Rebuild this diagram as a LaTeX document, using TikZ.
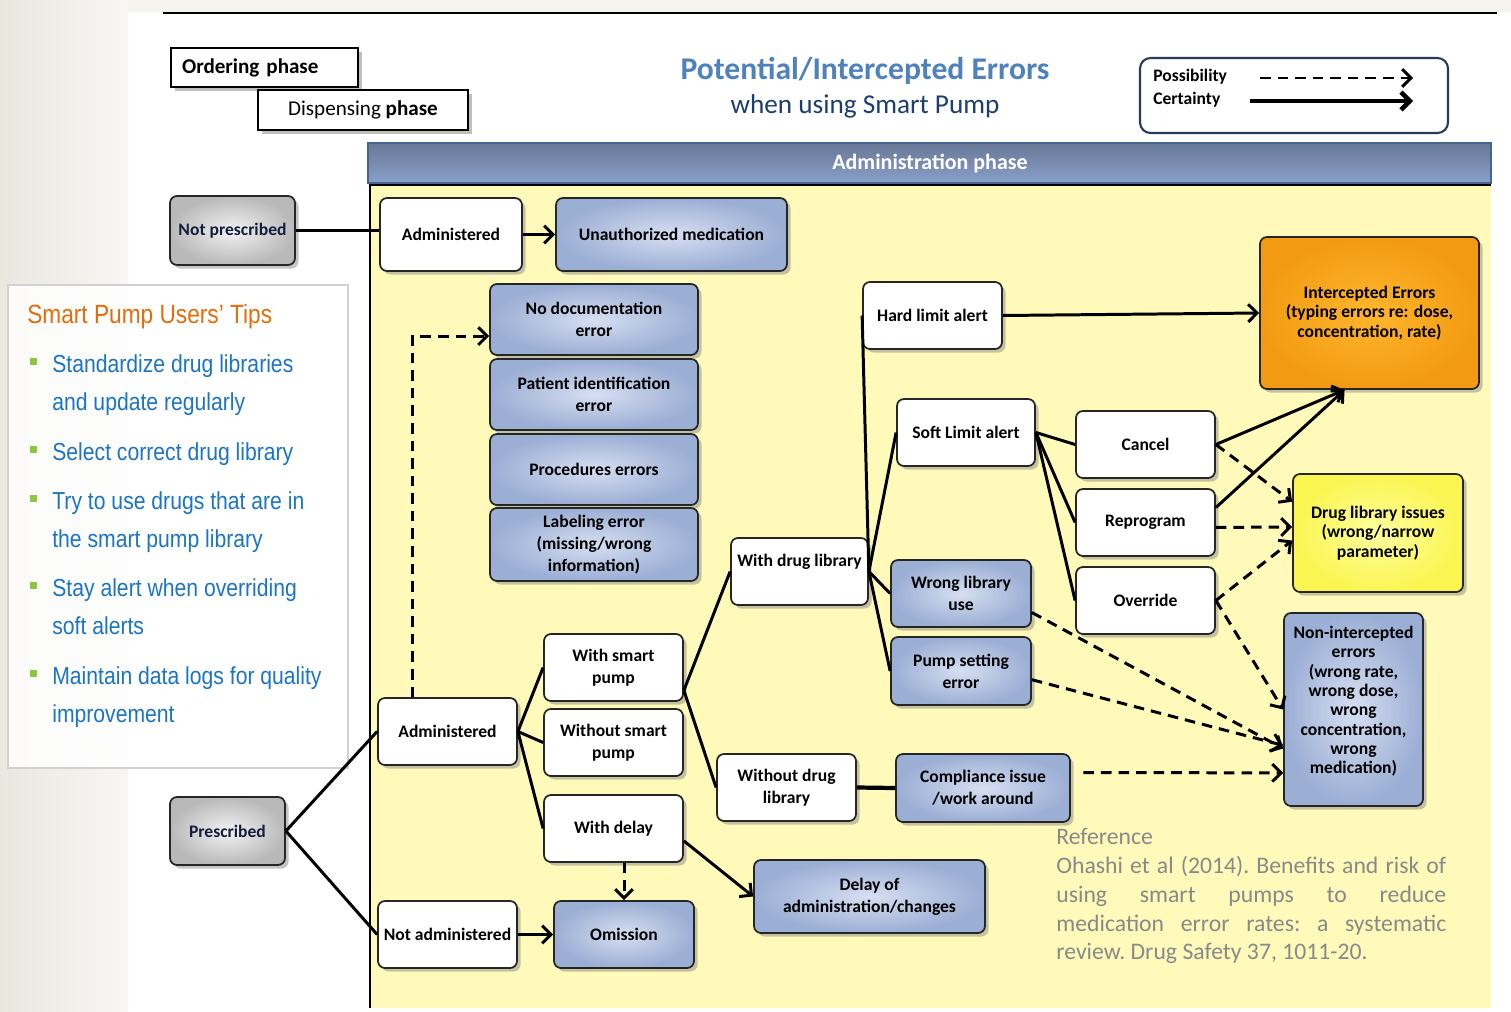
\documentclass[tikz,border=0pt]{standalone}
\usepackage{fontspec}
\setmainfont{Carlito}
\newfontfamily\tipfont[FakeStretch=0.86]{Liberation Sans}
\usepackage{tikz}
\usetikzlibrary{arrows.meta,shadows}

\definecolor{titleblue}{RGB}{79,129,189}
\definecolor{subblue}{RGB}{28,62,110}
\definecolor{tipblue}{RGB}{28,117,194}
\definecolor{tiporange}{RGB}{228,108,10}
\definecolor{tipgreen}{RGB}{141,198,63}
\definecolor{refgray}{RGB}{137,137,137}
\definecolor{bgside}{RGB}{234,231,223}
\definecolor{bgyellow}{RGB}{255,250,185}
\definecolor{barblue}{RGB}{138,160,201}
\definecolor{barline}{RGB}{70,100,140}
\definecolor{errblue}{RGB}{155,174,212}
\definecolor{errblueL}{RGB}{214,223,242}
\definecolor{errorange}{RGB}{242,155,18}
\definecolor{errorangeL}{RGB}{255,182,45}
\definecolor{libyellow}{RGB}{250,245,80}
\definecolor{libyellowL}{RGB}{255,255,160}
\definecolor{legendline}{RGB}{40,60,90}
\definecolor{rxtext}{RGB}{20,30,60}

\begin{document}
\begin{tikzpicture}[x=0.02cm, y=-0.02cm,
    font=\bfseries\fontsize{10}{12.5}\selectfont,
    wh/.style 2 args={minimum width=#1*0.02cm, minimum height=#2*0.02cm},
    box/.style={draw=black!85, line width=1pt, rounded corners=4pt, align=center, inner sep=1pt,
        drop shadow={shadow xshift=2pt, shadow yshift=-2pt, opacity=0.45}},
    act/.style={box, fill=white},
    err/.style={box, inner color=errblueL, outer color=errblue},
    rx/.style={box, inner color=gray!10, outer color=gray!55, text=rxtext},
    phase/.style={draw, line width=1.2pt, fill=white, font=\bfseries\fontsize{12}{14}\selectfont,
        drop shadow={shadow xshift=2pt, shadow yshift=-2pt, opacity=0.5}},
    link/.style={draw, line width=1.7pt},
    sure/.style={link, -{Straight Barb[length=5pt, width=10pt]}},
    maybe/.style={sure, dash pattern=on 6pt off 4pt},
    tip/.style={anchor=base west, inner sep=0pt, text=tipblue, font=\tipfont\fontsize{14}{16}\selectfont},
]
    % page
    \useasboundingbox(0,0)rectangle(1511,1011);
    \path[fill=white](0,0)rectangle(1511,1011);
    \path[left color=bgside, right color=bgside!35!white](0,0)rectangle(128,1011);
    \path[fill=bgside!50!white](128,0)rectangle(1511,12);
    \path[draw, line width=1pt](163,13)to(1497,13);

    % phases and title
    \node[phase, wh={187}{39}, text width=3.3cm, align=left](ordering)at(264.5,67.5){Ordering phase};
    \node[phase, wh={210}{40}](dispensing)at(363,110){{\mdseries Dispensing} phase};
    \node[text=titleblue, font=\bfseries\fontsize{18}{20}\selectfont](title)at(865,71){Potential/Intercepted Errors};
    \node[text=subblue, font=\fontsize{15.5}{18}\selectfont](subtitle)at(865,106){when using Smart Pump};

    % legend
    \node[draw=legendline, line width=1.2pt, rounded corners=6pt, wh={308}{75}](legend)at(1294,95.5){};
    \node[anchor=west, inner sep=0pt](poss)at(1153,77){Possibility};
    \node[anchor=west, inner sep=0pt](cert)at(1153,100){Certainty};
    \coordinate(p1)at(1260,78);
    \coordinate(p2)at(1413,78);
    \coordinate(c1)at(1250,101);
    \coordinate(c2)at(1413,101);
    \path[maybe](p1)to(p2);
    \path[sure, line width=2.6pt](c1)to(c2);

    % administration phase
    \path[top color=barblue!75!black, bottom color=barblue, draw=barline, line width=1.2pt](368,143)rectangle(1491,183);
    \node[text=white, font=\bfseries\fontsize{12.5}{14}\selectfont](adminphase)at(930,164){Administration phase};
    \path[fill=bgyellow](370,185)rectangle(1491,1008);
    \path[draw, line width=1.5pt](370,1008)to(370,185)to(1491,185);

    % tips
    \path[fill=white, fill opacity=0.85, draw=black!18, line width=1pt](8,285)rectangle(348,768);
    \node[anchor=base west, inner sep=0pt, text=tiporange, font=\tipfont\fontsize{15}{17}\selectfont](tiphead)at(27,323){Smart Pump Users’ Tips};
    \foreach \y in {372,460,509,596,684}
        \path[fill=tipgreen](30,\y-14)rectangle(37,\y-7);
    \foreach \y/\t[count=\i] in {372/Standardize drug libraries, 410/and update regularly,
        460/Select correct drug library, 509/Try to use drugs that are in, 547/the smart pump library,
        596/Stay alert when overriding, 634/soft alerts, 684/Maintain data logs for quality, 722/improvement}
        \node[tip](tip\i)at(52,\y){\t};

    % prescribing
    \node[rx, wh={125}{69}](notpres)at(232.5,230.5){Not prescribed};
    \node[rx, wh={115}{68}](pres)at(227.5,831){Prescribed};
    \node[act, wh={142}{73}](admA)at(451,234.5){Administered};
    \node[err, wh={231}{73}](unauth)at(671.5,234.5){Unauthorized medication};

    % process errors
    \node[err, wh={208}{71}](nodoc)at(594,319.5){No documentation\\error};
    \node[err, wh={208}{71}](patid)at(594,394.5){Patient identification\\error};
    \node[err, wh={208}{71}](proc)at(594,469.5){Procedures errors};
    \node[err, wh={208}{73}](labelerr)at(594,544.5){Labeling error\\(missing/wrong\\information)};

    % prescribed branch
    \node[act, wh={139}{67}](admB)at(447.5,731.5){Administered};
    \node[act, wh={139}{67}](notadm)at(447.5,934.5){Not administered};
    \node[err, wh={140}{67}](omis)at(624,934.5){Omission};
    \node[act, wh={139}{67}](wsp)at(613.5,667.5){With smart\\pump};
    \node[act, wh={139}{67}](wosp)at(613.5,742.5){Without smart\\pump};
    \node[act, wh={139}{67}](wdelay)at(613.5,828.5){With delay};
    \node[err, wh={231}{73}](delay)at(869.5,896.5){Delay of\\administration/changes};
    \node[act, wh={137}{67}](wdl)at(799.5,571.5){With drug library\\\mbox{}};
    \node[act, wh={139}{67}](wodl)at(786.5,787.5){Without drug\\library};
    \node[err, wh={174}{68}](compl)at(983,788){Compliance issue\\/work around};

    % alerts
    \node[act, wh={139}{67}](hard)at(932.5,315.5){Hard limit alert};
    \node[act, wh={138}{67}](soft)at(966,432.5){Soft Limit alert};
    \node[err, wh={140}{67}](wronglib)at(961,593.5){Wrong library\\use};
    \node[err, wh={140}{68}](pumpset)at(961,671){Pump setting\\error};
    \node[act, wh={139}{67}](cancel)at(1145.5,444.5){Cancel};
    \node[act, wh={139}{67}](reprog)at(1145.5,522.5){Reprogram};
    \node[act, wh={139}{67}](override)at(1145.5,600.5){Override};

    % outcomes
    \node[box, inner color=errorangeL, outer color=errorange, wh={219}{152},
        font=\bfseries\fontsize{10}{11}\selectfont](icpt)at(1369.5,313){Intercepted Errors\\(typing errors re: dose,\\concentration, rate)};
    \node[box, inner color=libyellowL, outer color=libyellow, wh={170}{118},
        font=\bfseries\fontsize{10}{11}\selectfont](druglib)at(1378,533){Drug library issues\\(wrong/narrow\\parameter)};
    \node[err, wh={139}{193}, font=\bfseries\fontsize{10}{11}\selectfont](nonint)at(1353.5,709.5){Non-intercepted\\errors\\(wrong rate,\\wrong dose,\\wrong\\concentration,\\wrong\\medication)\\\mbox{}};

    % reference
    \node[anchor=north west, text width=7.8cm, align=justify, inner sep=0pt, text=refgray,
        font=\frenchspacing\fontsize{13.5}{16.4}\selectfont](ref)at(1056,828){Reference\\Ohashi et al (2014). Benefits and risk of\linebreak using smart pumps to reduce\linebreak medication error rates: a systematic\linebreak review. Drug Safety 37, 1011-20.};

    % connectors
    \path[link](notpres.east)to(notpres.east-|admA.west);
    \path[sure](admA.east)to(unauth.west);
    \path[link](pres.east)to(admB.west);
    \path[link](pres.east)to(notadm.west);
    \path[maybe]([xshift=-0.7cm]admB.north)|-(nodoc.189);
    \path[link](admB.east)to(wsp.west);
    \path[link](admB.east)to(wosp.west);
    \path[link](admB.east)to(wdelay.west);
    \path[link](wsp.-18)to(wdl.west);
    \path[link](wsp.-18)to(wodl.west);
    \path[link](wdl.east)to(hard.west);
    \path[link](wdl.east)to(soft.west);
    \path[link](wdl.east)to(wronglib.west);
    \path[link](wdl.east)to(pumpset.west);
    \path[sure](hard.east)to(icpt.west);
    \path[link](soft.east)to(cancel.west);
    \path[link](soft.east)to(reprog.west);
    \path[link](soft.east)to(override.west);
    \path[sure](cancel.east)to(icpt.-108);
    \path[sure](reprog.12)to(icpt.-108);
    \path[maybe](cancel.east)to(druglib.160);
    \path[maybe](reprog.-4)to(druglib.176);
    \path[maybe](override.east)to(druglib.185);
    \path[maybe](override.east)to(nonint.west);
    \path[maybe](wronglib.-15)to(nonint.209);
    \path[maybe](pumpset.-7)to(nonint.207);
    \path[maybe, shorten <=0.25cm](compl.10)to(nonint.222);
    \path[link, line width=2.4pt](wodl.east)to(compl.west);
    \path[sure](wdelay.-10)to(delay.west);
    \path[maybe](omis.north|-wdelay.south)to(omis.north);
    \path[sure](notadm.east)to(omis.west);
\end{tikzpicture}
\end{document}
